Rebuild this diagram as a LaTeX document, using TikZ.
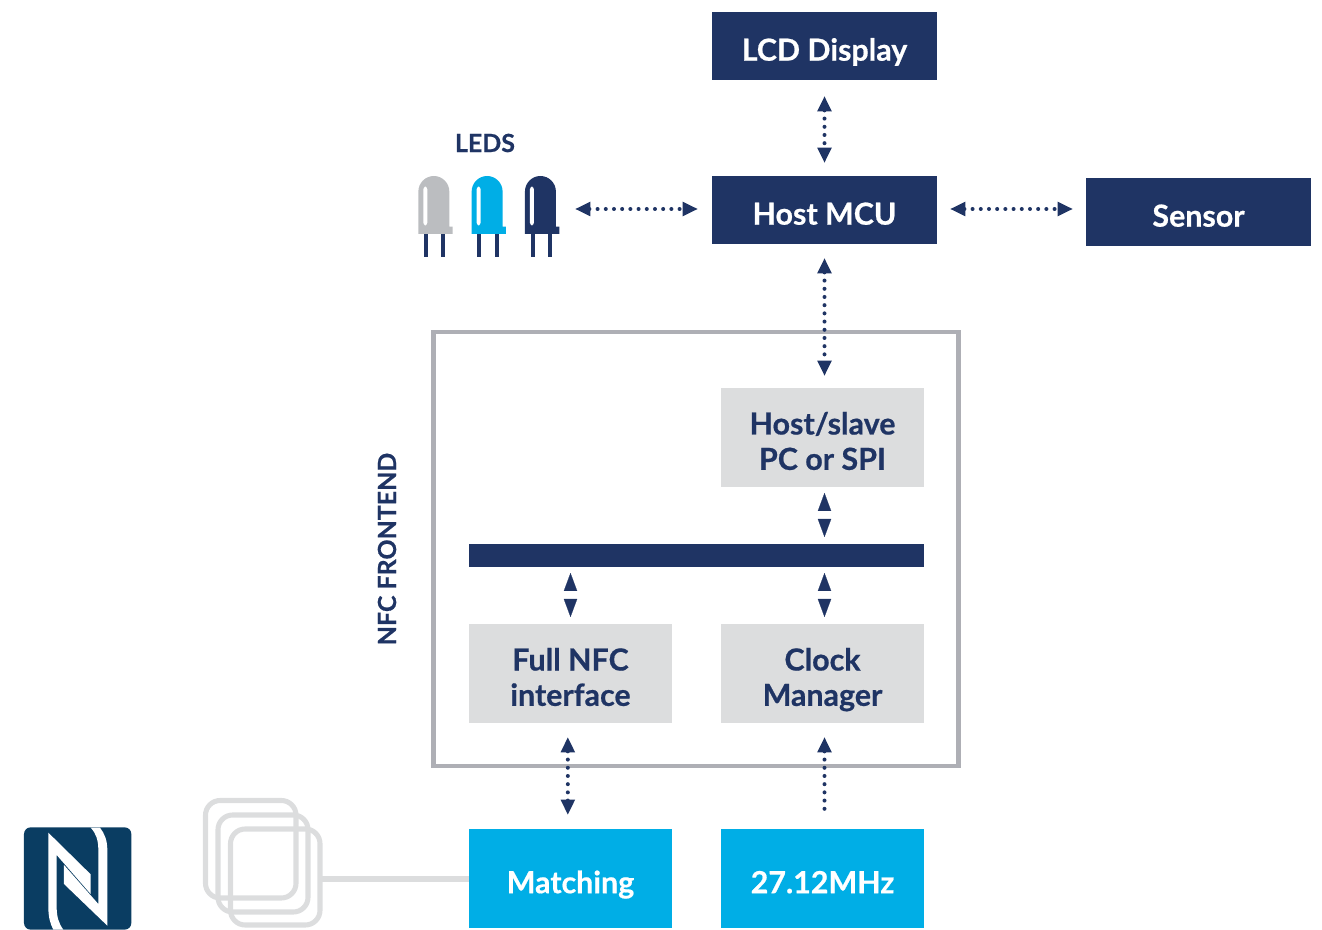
\documentclass[tikz,border=0pt]{standalone}
\usepackage{fontspec}
\setmainfont{Lato}[BoldFeatures={FakeBold=0.6}]
\usetikzlibrary{arrows.meta,calc}
\definecolor{navy}{HTML}{1F3464}
\definecolor{cyanbox}{HTML}{00AEE6}
\definecolor{greybox}{HTML}{DCDDDE}
\definecolor{framegrey}{HTML}{AEAFB5}
\definecolor{ledgrey}{HTML}{BBBDC0}
\definecolor{nfcblue}{HTML}{0A3D62}
\tikzset{
  basebox/.style={rectangle,inner sep=0pt,outer sep=0pt,minimum width=#1},
  boxlabel/.style={font=\bfseries\fontsize{22.8}{26.5}\selectfont,align=center,inner sep=0pt,yshift=-5.7pt},
  navybox/.style 2 args={basebox=225*0.75pt,minimum height=68*0.75pt,fill=navy,label={[boxlabel,text=white]center:#2}},
  greytext/.style 2 args={basebox=203*0.75pt,minimum height=99*0.75pt,fill=greybox,label={[boxlabel,text=navy]center:#2}},
  cyantext/.style 2 args={basebox=203*0.75pt,minimum height=99*0.75pt,fill=cyanbox,label={[boxlabel,text=white]center:#2}},
  dotlink/.style={navy,line width=3pt,line cap=round,dash pattern=on 0pt off 6.15pt},
  bothtips/.style={{Triangle[length=11.5pt,width=10pt]}-{Triangle[length=11.5pt,width=10pt]}},
  toptip/.style={{Triangle[length=11.5pt,width=10pt]}-},
  tipsonly/.style={navy,line width=0.1pt,dash pattern=on 0pt off 300pt,line cap=butt,
     {Triangle[length=13.5pt,width=10pt]}-{Triangle[length=13.5pt,width=10pt]}},
  smalllabel/.style={font=\bfseries\fontsize{18.7}{21}\selectfont,text=navy,inner sep=0pt},
  antenna/.style={draw=greybox,line width=3.8pt,rounded corners=11pt},
}
\begin{document}
\begin{tikzpicture}[x=0.75pt,y=-0.75pt]
\useasboundingbox (0,0) rectangle (1322,930);
% frame
\node[draw=framegrey,line width=3.2pt,rectangle,inner sep=0pt,minimum width=525*0.75pt,minimum height=434*0.75pt] (frame) at (696,549) {};
% boxes
\node[navybox={}{\strut LCD Display}] (lcd) at (824.5,46) {};
\node[navybox={}{\strut Host MCU}] (host) at (824.5,210) {};
\node[navybox={}{\strut Sensor}] (sensor) at (1198.5,212) {};
\node[greytext={}{\strut Host/slave\\\strut PC or SPI}] (hs) at (822.5,437.5) {};
\node[basebox=455*0.75pt,minimum height=23*0.75pt,fill=navy] (bar) at (696.5,555.5) {};
\node[greytext={}{\strut Full NFC\\\strut interface}] (nfc) at (570.5,673.5) {};
\node[greytext={}{\strut Clock\\\strut Manager}] (clock) at (822.5,673.5) {};
\node[cyantext={}{\strut Matching}] (match) at (570.5,878.5) {};
\node[cyantext={}{\strut 27.12MHz}] (xtal) at (822.5,878.5) {};
% labels
\node[smalllabel] (ledslabel) at (485,143) {LEDS};
\node[smalllabel,rotate=90] (frontlabel) at (387,549) {NFC FRONTEND};
% LEDs
\coordinate (ledsend) at (575,209);
\foreach \dx/\col in {0/ledgrey,53.3/cyanbox,106.6/navy}{
  \begin{scope}[shift={(400+\dx,120)},scale=1/3]
    \fill[\col] (55,320) -- (55,215) arc[start angle=180,end angle=360,x radius=46.5,y radius=47] -- (148,320) -- (158,320) -- (158,342) -- (55,342) -- cycle;
    \fill[white,rounded corners=2pt] (70,200) rectangle (82,316);
    \fill[navy] (72,342) rectangle (84,412);
    \fill[navy] (124,342) rectangle (136,412);
  \end{scope}
}
% dotted connectors
\draw[dotlink,bothtips,shorten <=16*0.75pt,shorten >=13*0.75pt] (lcd.south) -- (host.north);
\draw[dotlink,bothtips] (ledsend) -- ([xshift=-10.5pt]host.west |- ledsend);
\draw[dotlink,bothtips,shorten <=13*0.75pt,shorten >=13*0.75pt] (host.east |- 0,209) -- (sensor.west |- 0,209);
\draw[dotlink,bothtips,shorten <=14*0.75pt,shorten >=12*0.75pt] (host.south) -- (host.south |- hs.north);
\draw[dotlink,bothtips,shorten <=14*0.75pt,shorten >=14*0.75pt] ([xshift=-2pt]nfc.south) -- ([xshift=-2pt]match.north);
\draw[dotlink,toptip,shorten <=14*0.75pt,shorten >=14*0.75pt] (host.south |- clock.south) -- (host.south |- xtal.north);
% solid tip pairs
\draw[tipsonly,shorten <=6*0.75pt,shorten >=7*0.75pt] (host.south |- hs.south) -- (host.south |- bar.north);
\draw[tipsonly,shorten <=6*0.75pt,shorten >=7*0.75pt] (host.south |- bar.south) -- (host.south |- clock.north);
\draw[tipsonly,shorten <=6*0.75pt,shorten >=7*0.75pt] (nfc.north |- bar.south) -- (nfc.north);
% antenna
\draw[antenna] (205.5,800.5) rectangle (296,898);
\draw[antenna] (218,815) rectangle (308,912);
\draw[antenna] (230.5,829) rectangle (320,925);
\coordinate (antend) at (320,879);
\draw[greybox,line width=3.8pt] (antend) -- (antend -| match.west);
% NFC logo
\begin{scope}[shift={(0,780)},scale=1/3]
  \fill[nfcblue,rounded corners=5pt] (72,142) rectangle (394,449);
  \fill[white] (145,158) -- (272,283) -- (272,342) -- (170,225) -- (170,380) .. controls (170,410) and (176,430) .. (190,449) -- (160,449) .. controls (150,430) and (145,410) .. (145,380) -- cycle;
  \fill[white] (322,437) -- (192,312) -- (192,255) -- (295,372) -- (295,210) .. controls (295,180) and (288,160) .. (272,143) -- (300,143) .. controls (313,160) and (322,180) .. (322,210) -- cycle;
\end{scope}
\end{tikzpicture}
\end{document}
